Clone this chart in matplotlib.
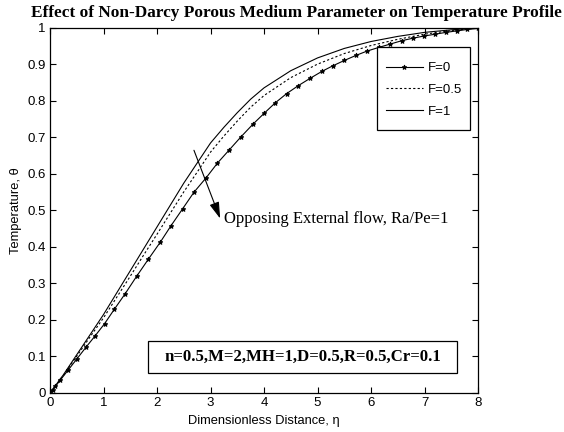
from matplotlib import pyplot as plt
from matplotlib.patches import Rectangle

# F = 0 (solver mesh points, drawn with markers)
eta_f0 = [0, 0.05, 0.1, 0.19, 0.34, 0.5, 0.67, 0.84, 1.02, 1.2, 1.4, 1.62, 1.84,
          2.06, 2.26, 2.48, 2.69, 2.92, 3.13, 3.35, 3.57, 3.79, 4.0, 4.21, 4.42,
          4.64, 4.86, 5.08, 5.28, 5.5, 5.72, 5.93, 6.15, 6.36, 6.57, 6.78, 6.99,
          7.2, 7.4, 7.6, 7.8, 8.0]
theta_f0 = [0, 0.009, 0.018, 0.035, 0.063, 0.093, 0.125, 0.156, 0.19, 0.229,
            0.271, 0.32, 0.367, 0.413, 0.458, 0.505, 0.55, 0.59, 0.63, 0.666,
            0.702, 0.736, 0.766, 0.795, 0.82, 0.842, 0.862, 0.881, 0.896, 0.911,
            0.925, 0.937, 0.947, 0.956, 0.965, 0.972, 0.978, 0.983, 0.988,
            0.992, 0.996, 0.999]

# F = 0.5 and F = 1
eta_f = [0, 0.25, 0.5, 0.75, 1.0, 1.25, 1.5, 1.75, 2.0, 2.25, 2.5, 2.75, 3.0,
         3.25, 3.5, 3.75, 4.0, 4.5, 5.0, 5.5, 6.0, 6.5, 7.0, 7.5, 8.0]
theta_f05 = [0, 0.048, 0.101, 0.154, 0.206, 0.263, 0.32, 0.378, 0.435, 0.493,
             0.551, 0.605, 0.66, 0.704, 0.745, 0.783, 0.815, 0.864, 0.901, 0.93,
             0.952, 0.969, 0.983, 0.993, 1.0]
theta_f1 = [0, 0.05, 0.105, 0.16, 0.215, 0.275, 0.335, 0.395, 0.455, 0.515,
            0.575, 0.63, 0.685, 0.728, 0.768, 0.805, 0.836, 0.883, 0.918, 0.944,
            0.963, 0.977, 0.988, 0.995, 1.0]

sans = ['Liberation Sans', 'DejaVu Sans']
serif = ['Liberation Serif', 'DejaVu Serif']

fig = plt.figure(figsize=(5.64, 4.32), dpi=100)
ax = fig.add_axes([0.0887, 0.0903, 0.7589, 0.8449])

ax.plot(eta_f0, theta_f0, color='black', lw=0.8, marker='*', ms=3.5,
        mew=0.7, label='F=0')
ax.plot(eta_f, theta_f05, color='black', lw=0.8, ls=(0, (2, 2)), label='F=0.5')
ax.plot(eta_f, theta_f1, color='black', lw=0.8, label='F=1')

ax.set_xlim(0, 8)
ax.set_ylim(0, 1)
ax.set_xticks(range(0, 9))
ax.set_yticks([i / 10 for i in range(11)])
ax.set_yticklabels(['0', '0.1', '0.2', '0.3', '0.4', '0.5', '0.6', '0.7',
                    '0.8', '0.9', '1'])
ax.tick_params(direction='in', top=True, right=True, length=4, width=0.8,
               labelsize=9.5, pad=3)
for lab in ax.get_xticklabels() + ax.get_yticklabels():
    lab.set_family(sans)
for sp in ax.spines.values():
    sp.set_linewidth(0.9)

ax.set_xlabel('Dimensionless Distance, η', family=sans, fontsize=9.3, labelpad=4)
ax.set_ylabel('Temperature, θ', family=sans, fontsize=9.3, labelpad=4)

fig.text(0.526, 0.97, 'Effect of Non-Darcy Porous Medium Parameter on Temperature Profile',
         family=serif, fontweight='bold', fontsize=12.45, ha='center', va='center')

# legend drawn without its own frame, MATLAB-style box added separately
leg = ax.legend(loc='upper left', bbox_to_anchor=(0.785, 0.907),
                borderaxespad=0, borderpad=0, frameon=False,
                handlelength=2.8, handletextpad=0.4, labelspacing=0.72,
                prop={'family': sans, 'size': 9.5})
ax.add_patch(Rectangle((0.764, 0.72), 0.217, 0.228, transform=ax.transAxes,
                       facecolor='white', edgecolor='black', lw=0.9, zorder=4))
leg.set_zorder(5)

ax.annotate('', xy=(3.18, 0.478), xytext=(2.69, 0.665),
            arrowprops=dict(arrowstyle='-|>,head_length=1.0,head_width=0.3',
                            color='black', lw=0.8, shrinkA=0, shrinkB=0))
ax.text(3.26, 0.478, 'Opposing External flow, Ra/Pe=1', family=serif,
        fontsize=12, va='center', ha='left')

ax.add_patch(Rectangle((0.229, 0.055), 0.722, 0.088, transform=ax.transAxes,
                       fill=False, edgecolor='black', lw=0.9))
ax.text(0.59, 0.099, 'n=0.5,M=2,MH=1,D=0.5,R=0.5,Cr=0.1', transform=ax.transAxes,
        family=serif, fontweight='bold', fontsize=12.1, ha='center', va='center')

fig.savefig('out.png', dpi=100)
